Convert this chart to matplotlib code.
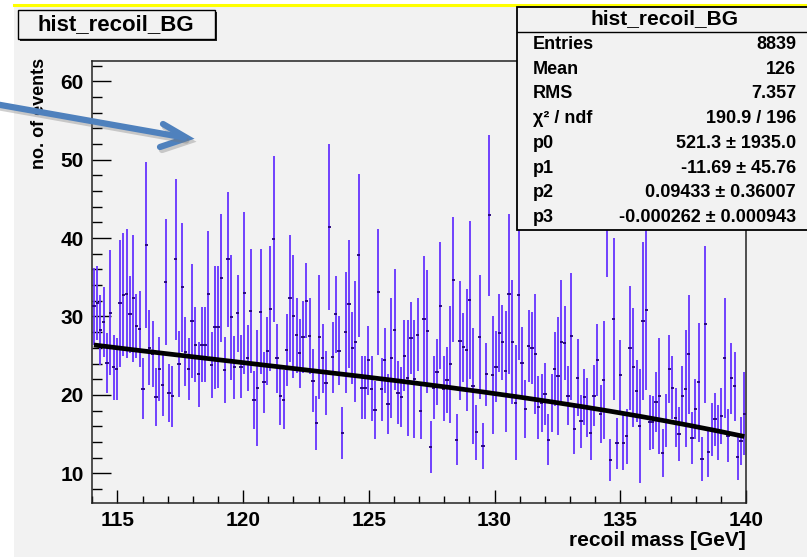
import numpy as np
import matplotlib
matplotlib.use("Agg")
import matplotlib.pyplot as plt
from matplotlib.patches import Rectangle, FancyArrowPatch
from matplotlib.ticker import MultipleLocator

plt.rcParams['font.family'] = ['Liberation Sans', 'DejaVu Sans']
plt.rcParams['font.weight'] = 'bold'

# histogram: 200 bins on [114, 140] GeV
x_lo, x_hi, n_bins = 114.0, 140.0, 200

counts = [
    31.3, 31.7, 28.3, 29.3, 24.1, 30.5, 23.5, 23.3, 31.7, 32.8,
    32.9, 30.3, 32.3, 28.8, 28.4, 20.8, 39.1, 26.0, 25.2, 19.7,
    23.3, 21.2, 34.4, 20.2, 19.8, 37.3, 23.9, 33.7, 25.5, 23.3,
    29.4, 26.4, 22.6, 26.4, 26.4, 32.9, 23.8, 28.6, 28.7, 34.9,
    23.2, 37.3, 29.9, 23.5, 30.4, 23.6, 33.0, 24.7, 30.7, 19.3,
    20.9, 30.6, 21.6, 25.6, 31.0, 39.9, 24.7, 19.8, 19.4, 25.7,
    32.3, 30.0, 27.6, 25.3, 27.4, 32.0, 27.5, 21.8, 16.4, 27.4,
    24.7, 21.5, 41.4, 24.8, 30.3, 25.6, 15.1, 28.0, 31.6, 26.0,
    26.8, 37.8, 20.9, 20.9, 24.4, 20.8, 18.1, 33.1, 20.7, 24.4,
    18.8, 24.7, 28.3, 20.3, 19.7, 25.0, 22.2, 27.2, 22.0, 27.7,
    18.0, 29.7, 28.1, 13.3, 20.9, 22.9, 31.4, 20.8, 21.9, 23.9,
    34.7, 14.3, 26.9, 26.1, 25.7, 32.1, 21.1, 15.2, 27.4, 13.5,
    22.6, 42.9, 22.5, 23.6, 27.9, 26.7, 23.0, 32.9, 26.7, 19.0,
    32.8, 24.1, 18.2, 26.2, 26.0, 25.2, 18.4, 18.9, 20.1, 14.3,
    18.9, 23.3, 22.4, 26.7, 26.6, 19.9, 27.5, 15.7, 22.2, 16.6,
    19.7, 18.4, 15.1, 19.9, 24.5, 17.6, 21.9, 45.5, 11.7, 29.7,
    13.8, 22.5, 13.9, 14.7, 26.0, 23.5, 20.5, 16.0, 29.4, 30.8,
    16.5, 16.5, 19.1, 19.9, 12.6, 16.7, 23.3, 20.9, 17.1, 15.0,
    19.9, 20.8, 25.2, 14.5, 18.2, 21.6, 11.8, 29.0, 12.7, 15.6,
    16.9, 15.2, 17.3, 24.7, 14.8, 22.1, 21.1, 12.1, 14.1, 17.6,
]

errors = [
    4.9, 4.7, 4.5, 4.5, 3.8, 8.0, 4.2, 4.0, 8.1, 7.9,
    8.2, 4.9, 8.1, 4.1, 4.9, 3.9, 10.6, 4.8, 4.2, 3.7,
    4.1, 3.9, 8.1, 3.7, 3.9, 10.3, 4.2, 8.2, 4.4, 4.0,
    7.3, 4.8, 4.2, 4.8, 4.8, 8.0, 4.2, 7.9, 7.8, 8.2,
    4.2, 8.6, 8.0, 4.0, 4.9, 4.0, 10.3, 4.2, 7.9, 3.7,
    7.4, 8.0, 3.9, 4.3, 8.0, 10.6, 4.4, 3.6, 3.8, 4.6,
    8.1, 7.9, 4.8, 4.4, 4.6, 4.8, 4.8, 4.0, 3.4, 7.9,
    4.4, 4.1, 10.6, 4.5, 4.9, 4.4, 3.3, 7.7, 8.2, 4.6,
    7.7, 10.4, 4.0, 4.0, 4.4, 4.1, 3.7, 8.0, 4.0, 4.1,
    3.8, 7.7, 7.7, 4.0, 3.8, 4.5, 7.4, 4.6, 7.5, 4.7,
    3.6, 8.0, 7.8, 3.3, 4.0, 4.2, 8.1, 4.1, 4.2, 7.5,
    8.0, 3.2, 7.6, 4.4, 7.8, 10.1, 7.4, 3.5, 7.9, 2.9,
    4.0, 10.3, 7.5, 4.5, 5.0, 4.8, 7.7, 10.2, 7.9, 7.3,
    8.4, 4.5, 3.7, 4.6, 4.6, 7.7, 4.0, 3.7, 4.0, 3.2,
    3.7, 4.7, 7.5, 7.9, 4.7, 3.8, 8.1, 3.3, 4.9, 3.4,
    3.6, 3.8, 3.4, 3.9, 4.6, 3.7, 7.5, 10.4, 2.7, 10.3,
    3.3, 4.5, 3.5, 3.5, 7.9, 7.6, 4.0, 7.3, 10.1, 10.2,
    3.5, 3.4, 3.8, 7.4, 3.1, 3.4, 4.4, 4.0, 3.8, 3.4,
    3.8, 7.5, 7.6, 3.3, 3.8, 7.6, 2.8, 10.0, 3.2, 3.4,
    3.4, 3.5, 3.6, 7.7, 3.4, 4.5, 4.4, 3.0, 3.1, 5.3,
]

# pol3 fit result
p = [521.3, -11.69, 0.09433, -0.000262]
p_err = [1935.0, 45.76, 0.36007, 0.000943]

stat_labels = ['Entries', 'Mean', 'RMS', 'χ² / ndf', 'p0', 'p1', 'p2', 'p3']
stat_values = ['8839', '126', '7.357', '190.9 / 196',
               '521.3 ± 1935.0', '-11.69 ± 45.76',
               '0.09433 ± 0.36007', '-0.000262 ± 0.000943']

W, H = 807, 557
fig = plt.figure(figsize=(W / 100, H / 100), dpi=100)
fig.patch.set_facecolor('white')


def fx(px):
    return px / W


def fy(py):
    return 1 - py / H


bg = '#f2f2f2'
# canvas background and the yellow line along its top
fig.patches.append(Rectangle((fx(14), 0), 1 - fx(14), fy(6), transform=fig.transFigure,
                             facecolor=bg, edgecolor='none', zorder=-10))
fig.add_artist(plt.Line2D([fx(14), 1], [fy(5), fy(5)], transform=fig.transFigure,
                          color='#ffff00', lw=2.2, zorder=-5))

ax = fig.add_axes([fx(92.3), fy(503), fx(746) - fx(92.3), fy(61) - fy(503)])
ax.set_zorder(1)
ax.set_facecolor(bg)

edges = np.linspace(x_lo, x_hi, n_bins + 1)
centers = 0.5 * (edges[1:] + edges[:-1])
half_w = 0.5 * (edges[1] - edges[0])
counts = np.array(counts)
errors = np.array(errors)

ax.vlines(centers, counts - errors, counts + errors, color='#6633ff', lw=1.3, zorder=2)
ax.hlines(counts, centers - half_w, centers + half_w, color='#220077', lw=1.3, zorder=3)

xf = np.linspace(centers[0], centers[-1], 400)
yf = p[0] + p[1] * xf + p[2] * xf ** 2 + p[3] * xf ** 3
ax.plot(xf, yf, color='black', lw=3.4, zorder=4, solid_capstyle='butt')

ax.set_xlim(x_lo, x_hi)
ax.set_ylim(6.2, 62.6)
ax.xaxis.set_major_locator(MultipleLocator(5))
ax.xaxis.set_minor_locator(MultipleLocator(1))
ax.yaxis.set_major_locator(MultipleLocator(10))
ax.yaxis.set_minor_locator(MultipleLocator(2))
ax.tick_params(axis='both', which='both', direction='in', colors='black', width=1.0)
ax.tick_params(axis='y', which='major', length=14, labelsize=15, pad=6)
ax.tick_params(axis='y', which='minor', length=7)
ax.tick_params(axis='x', which='major', length=9.5, labelsize=15, pad=6)
ax.tick_params(axis='x', which='minor', length=4.8)
for s in ax.spines.values():
    s.set_linewidth(1.1)
    s.set_color('#222222')
for lab in ax.get_xticklabels() + ax.get_yticklabels():
    lab.set_fontweight('bold')

fig.text(fx(40), fy(58), 'no. of events', rotation=90, ha='center', va='top',
         fontsize=13, fontweight='bold')
fig.text(fx(746), fy(541), 'recoil mass [GeV]', ha='right', va='center',
         fontsize=15, fontweight='bold')

# title box with shadow
fig.patches.append(Rectangle((fx(20), fy(41)), fx(197), fy(12) - fy(41),
                             transform=fig.transFigure, facecolor='#222222',
                             edgecolor='none', zorder=5))
fig.patches.append(Rectangle((fx(18), fy(39)), fx(197), fy(10) - fy(39),
                             transform=fig.transFigure, facecolor=bg,
                             edgecolor='black', lw=1.0, zorder=6))
fig.text(fx(116), fy(24.5), 'hist_recoil_BG', ha='center', va='center',
         fontsize=16, fontweight='bold', zorder=7)

# statistics box
fig.patches.append(Rectangle((fx(517), fy(230)), 1 - fx(517) + 0.01, fy(7) - fy(230),
                             transform=fig.transFigure, facecolor=bg,
                             edgecolor='black', lw=1.3, zorder=5))
fig.add_artist(plt.Line2D([fx(517), 1], [fy(32), fy(32)], transform=fig.transFigure,
                          color='black', lw=1.0, zorder=6))
fig.text(fx(665), fy(19), 'hist_recoil_BG', ha='center', va='center',
         fontsize=15, fontweight='bold', zorder=7)
for i, (lab, val) in enumerate(zip(stat_labels, stat_values)):
    yy = fy(44.5 + 24.7 * i)
    fig.text(fx(533), yy, lab, ha='left', va='center', fontsize=13,
             fontweight='bold', zorder=7)
    fig.text(fx(796), yy, val, ha='right', va='center', fontsize=13,
             fontweight='bold', zorder=7)

# annotation arrow with a soft shadow
for dx, dy, col, a in [(2, 3, '#777777', 0.35), (0, 0, '#4f81bd', 1.0)]:
    arr = FancyArrowPatch((fx(-5 + dx), fy(104 + dy)), (fx(187 + dx), fy(138 + dy)),
                          transform=fig.transFigure, arrowstyle='-',
                          color=col, alpha=a, lw=4.5, zorder=8)
    fig.patches.append(arr)
    head = plt.Line2D([fx(163 + dx), fx(187 + dx), fx(160 + dx)],
                      [fy(124 + dy), fy(138 + dy), fy(147 + dy)],
                      transform=fig.transFigure, color=col, alpha=a, lw=4.5,
                      solid_capstyle='round', solid_joinstyle='miter', zorder=8)
    fig.add_artist(head)

fig.savefig('out.png', dpi=100, facecolor=fig.get_facecolor())
